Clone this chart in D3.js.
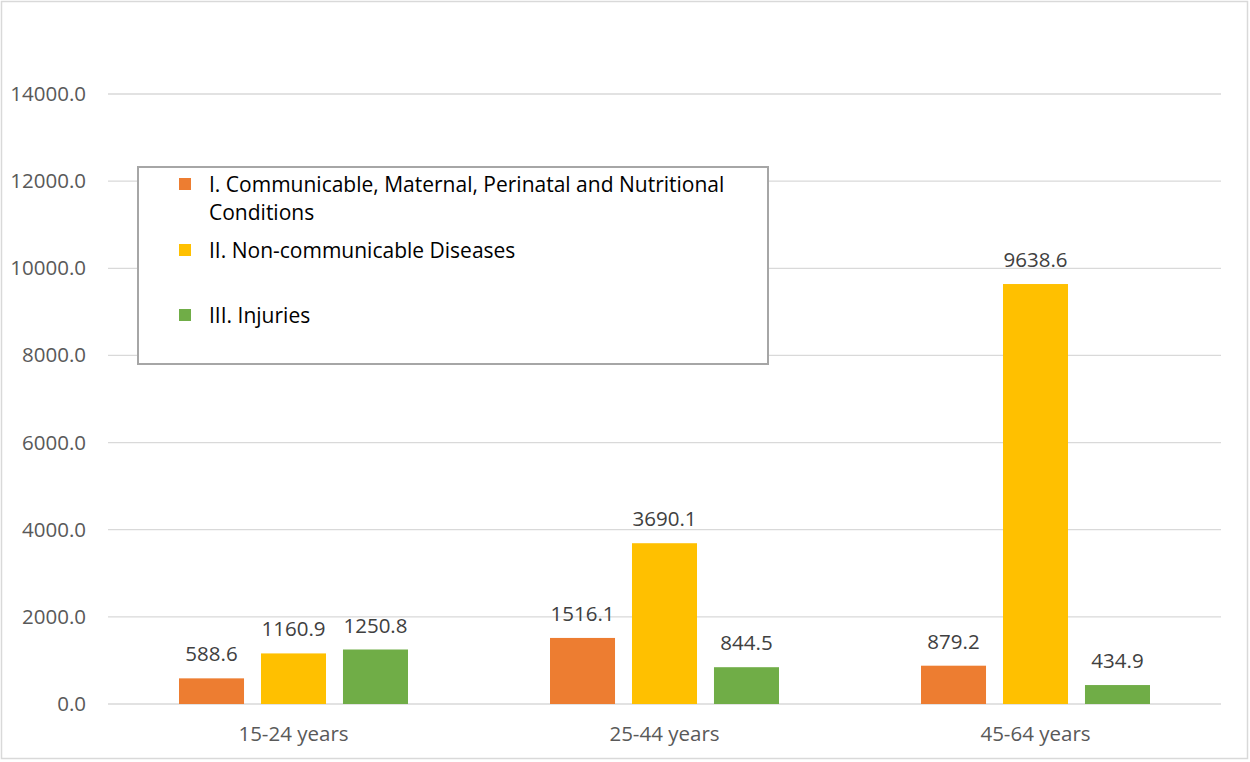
<!DOCTYPE html>
<html>
<head>
<meta charset="utf-8">
<script src="https://cdn.jsdelivr.net/npm/d3@7"></script>
<style>
  body { margin: 0; background: #fff; }
  svg text { font-family: "Open Sans", "Noto Sans", sans-serif; }
</style>
</head>
<body>
<svg id="chart" width="1250" height="762"></svg>
<script>
// categories and series
var ageGroups = ["15-24 years", "25-44 years", "45-64 years"];
var seriesNames = [
  "I. Communicable, Maternal, Perinatal and Nutritional Conditions",
  "II. Non-communicable Diseases",
  "III. Injuries"
];
var communicable = [588.6, 1516.1, 879.2];
var nonCommunicable = [1160.9, 3690.1, 9638.6];
var injuries = [1250.8, 844.5, 434.9];
var yTicks = [0, 2000, 4000, 6000, 8000, 10000, 12000, 14000];
var colors = ["#ed7d31", "#ffc000", "#70ad47"];

var series = [communicable, nonCommunicable, injuries];

var svg = d3.select("#chart");

// outer chart border
svg.append("rect")
    .attr("x", 1.5).attr("y", 1.5)
    .attr("width", 1246).attr("height", 757)
    .attr("fill", "none")
    .attr("stroke", "#d9d9d9")
    .attr("stroke-width", 1.5);

var plot = { left: 108, right: 1221, top: 94, bottom: 704 };

var x0 = d3.scaleBand()
    .domain(ageGroups)
    .range([plot.left, plot.right]);

var x1 = d3.scaleBand()
    .domain(d3.range(series.length))
    .range([71, x0.bandwidth() - 71])
    .paddingInner(0.207);

var y = d3.scaleLinear()
    .domain([0, 14000])
    .range([plot.bottom, plot.top]);

// gridlines
svg.append("g")
    .selectAll("line")
    .data(yTicks)
    .enter().append("line")
    .attr("x1", plot.left)
    .attr("x2", plot.right)
    .attr("y1", function(d) { return y(d); })
    .attr("y2", function(d) { return y(d); })
    .attr("stroke", "#d9d9d9")
    .attr("stroke-width", 1.3);

// y tick labels
svg.append("g")
    .selectAll("text")
    .data(yTicks)
    .enter().append("text")
    .attr("x", 86)
    .attr("y", function(d) { return y(d) + 7; })
    .attr("text-anchor", "end")
    .attr("font-size", 20.5)
    .attr("fill", "#595959")
    .text(function(d) { return d3.format(".1f")(d); });

// bars
var groups = svg.append("g")
    .selectAll("g")
    .data(ageGroups)
    .enter().append("g")
    .attr("transform", function(d) { return "translate(" + x0(d) + ",0)"; });

groups.selectAll("rect")
    .data(function(d, i) {
      return series.map(function(s, k) { return { k: k, v: s[i] }; });
    })
    .enter().append("rect")
    .attr("x", function(d) { return x1(d.k); })
    .attr("width", x1.bandwidth())
    .attr("y", function(d) { return y(d.v); })
    .attr("height", function(d) { return plot.bottom - y(d.v); })
    .attr("fill", function(d) { return colors[d.k]; });

// value labels
groups.selectAll("text")
    .data(function(d, i) {
      return series.map(function(s, k) { return { k: k, v: s[i] }; });
    })
    .enter().append("text")
    .attr("x", function(d) { return x1(d.k) + x1.bandwidth() / 2; })
    .attr("y", function(d) { return y(d.v) - 17; })
    .attr("text-anchor", "middle")
    .attr("font-size", 20.5)
    .attr("fill", "#404040")
    .text(function(d) { return d3.format(".1f")(d.v); });

// category labels
svg.append("g")
    .selectAll("text")
    .data(ageGroups)
    .enter().append("text")
    .attr("x", function(d) { return x0(d) + x0.bandwidth() / 2; })
    .attr("y", 741)
    .attr("text-anchor", "middle")
    .attr("font-size", 20.5)
    .attr("fill", "#595959")
    .text(function(d) { return d; });

// legend
var legend = svg.append("g");

legend.append("rect")
    .attr("x", 138).attr("y", 167)
    .attr("width", 630).attr("height", 197)
    .attr("fill", "#fff")
    .attr("stroke", "#a6a6a6")
    .attr("stroke-width", 2);

var legendLines = [
  ["I. Communicable, Maternal, Perinatal and Nutritional", "Conditions"],
  ["II. Non-communicable Diseases"],
  ["III. Injuries"]
];
var legendY = [192, 258, 323];

legendLines.forEach(function(lines, k) {
  legend.append("rect")
      .attr("x", 179)
      .attr("y", legendY[k] - 14)
      .attr("width", 12)
      .attr("height", 12)
      .attr("fill", colors[k]);

  var t = legend.append("text")
      .attr("x", 209)
      .attr("y", legendY[k])
      .attr("font-size", 21)
      .attr("fill", "#000");

  lines.forEach(function(line, j) {
    t.append("tspan")
        .attr("x", 209)
        .attr("dy", j === 0 ? 0 : 28)
        .text(line);
  });
});
</script>
</body>
</html>
